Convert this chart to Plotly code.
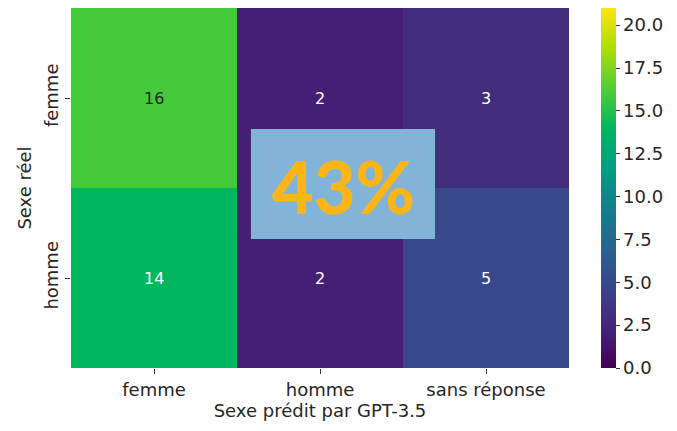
import colorsys
import plotly.graph_objects as go

# confusion matrix: real sex (rows) vs GPT-3.5 prediction (cols)
pred_labels = ["femme", "homme", "sans réponse"]
real_labels = ["femme", "homme"]
counts = [
    [16, 2, 3],
    [14, 2, 5],
]
overall_score = "43%"

vmin, vmax = 0, 21

# viridis; the green end is pushed more saturated to match the reference
viridis = ['#440154', '#482878', '#3e4989', '#31688e', '#26828e',
           '#1f9e89', '#35b779', '#6ece58', '#b5de2b', '#fde725']
boost = [1.05, 1.05, 1.05, 1.1, 1.2, 1.3, 1.45, 1.3, 1.2, 1.1]


def punch(hexcol, k):
    r, g, b = (int(hexcol[i:i + 2], 16) / 255 for i in (1, 3, 5))
    h, s, v = colorsys.rgb_to_hsv(r, g, b)
    r, g, b = colorsys.hsv_to_rgb(h, min(1.0, s * k), v)
    return "rgb(%d,%d,%d)" % (r * 255, g * 255, b * 255)


colorscale = [[i / (len(viridis) - 1), punch(c, k)]
              for i, (c, k) in enumerate(zip(viridis, boost))]

# light cells get dark text, dark cells white text (like seaborn does)
text_colors = [["#262626" if v >= 15 else "white" for v in row] for row in counts]

FONT = "DejaVu Sans"
FS = 18
DARK = "#262626"

fig = go.Figure()
fig.add_trace(go.Heatmap(
    z=counts,
    x=pred_labels,
    y=real_labels,
    colorscale=colorscale,
    zmin=vmin, zmax=vmax,
    showscale=True,
    colorbar=dict(
        thickness=15,
        len=1.0, lenmode="fraction",
        y=0.5, yanchor="middle",
        x=1.064, xanchor="left", xpad=0, ypad=0,
        tick0=0, dtick=2.5, tickformat=".1f",
        ticks="outside", ticklen=4, tickcolor="#333",
        outlinewidth=0,
        tickfont=dict(family=FONT, size=FS, color=DARK),
    ),
    hoverinfo="skip",
))

for i, row in enumerate(counts):
    for j, v in enumerate(row):
        fig.add_annotation(
            x=pred_labels[j], y=real_labels[i], text=str(v),
            showarrow=False,
            font=dict(family=FONT, size=16, color=text_colors[i][j]),
        )

# the score box sitting on top of the matrix
fig.add_shape(
    type="rect", xref="x", yref="y",
    x0=0.584, x1=1.693, y0=0.172, y1=0.783,
    fillcolor="#82b4d8", line=dict(width=0), layer="above",
)
fig.add_annotation(
    x=1.14, y=0.49, xref="x", yref="y",
    text=overall_score,
    showarrow=False,
    font=dict(family="Lato", size=72, color="#fdb515", weight=900),
)

fig.update_xaxes(
    title=dict(text="Sexe prédit par GPT-3.5", standoff=2,
               font=dict(family=FONT, size=FS, color=DARK)),
    tickfont=dict(family=FONT, size=FS, color=DARK),
    ticks="outside", ticklen=5, tickcolor="#333",
    showgrid=False, zeroline=False, automargin=False,
)
fig.update_yaxes(
    title=dict(text="Sexe réel", standoff=4,
               font=dict(family=FONT, size=FS, color=DARK)),
    tickfont=dict(family=FONT, size=FS, color=DARK),
    tickangle=-90,
    ticks="outside", ticklen=5, tickcolor="#333",
    autorange="reversed",
    showgrid=False, zeroline=False, automargin=False,
)

# page body has an 8px margin, so the figure is shrunk to fit the window
fig.update_layout(
    width=661, height=415,
    margin=dict(l=63, r=100, t=0, b=55),
    paper_bgcolor="white", plot_bgcolor="white",
    showlegend=False,
)

fig.write_html("out.html")
